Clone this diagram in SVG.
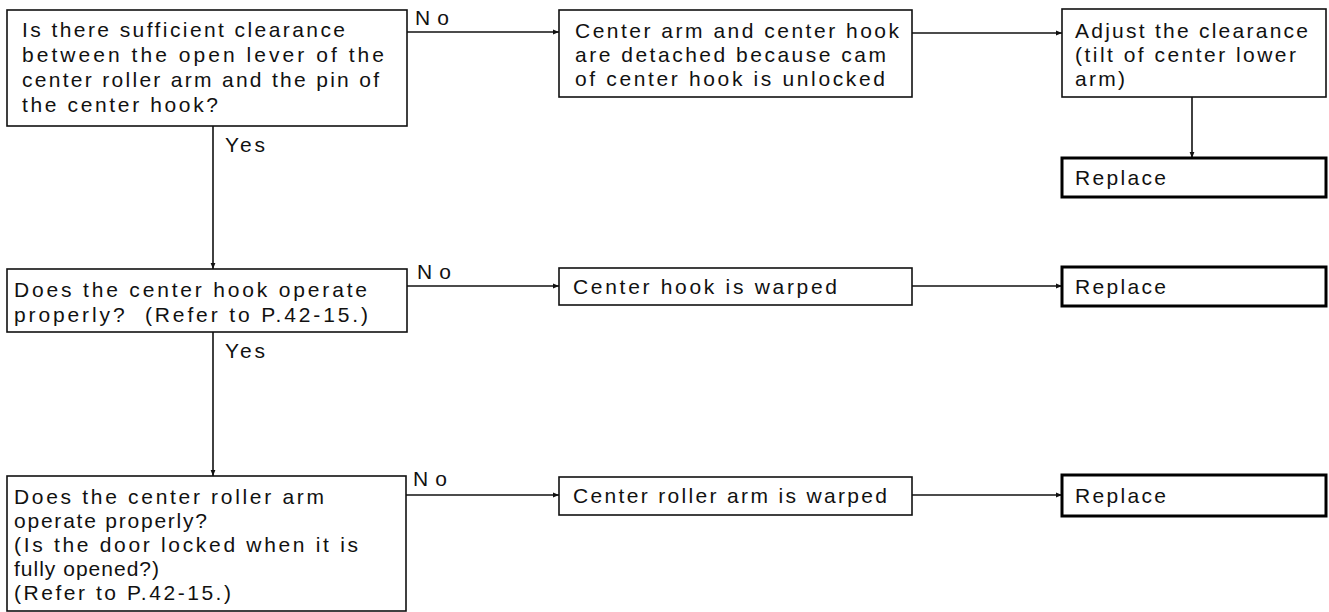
<svg xmlns="http://www.w3.org/2000/svg" width="1329" height="612" viewBox="0 0 1329 612">
<defs>
<style>
.box{fill:#fff;stroke:#111;stroke-width:1.6}
.rep{fill:#fff;stroke:#000;stroke-width:3}
.t{font-family:"Liberation Sans",Arial,sans-serif;font-size:21px;fill:#111}
.ln{fill:none;stroke:#111;stroke-width:1.6}
</style>
<marker id="ah" viewBox="0 0 10 10" refX="10" refY="5" markerWidth="10" markerHeight="6" markerUnits="userSpaceOnUse" orient="auto">
<path d="M0,1 L10,5 L0,9 Z" fill="#111"/>
</marker>
</defs>
<rect width="1329" height="612" fill="#fff"/>
<g id="connectors">
<line class="ln" x1="407" y1="32" x2="559" y2="32" marker-end="url(#ah)"/>
<line class="ln" x1="912" y1="33" x2="1062" y2="33" marker-end="url(#ah)"/>
<line class="ln" x1="1192" y1="97" x2="1192" y2="158" marker-end="url(#ah)"/>
<line class="ln" x1="213" y1="126" x2="213" y2="269" marker-end="url(#ah)"/>
<line class="ln" x1="407" y1="286" x2="559" y2="286" marker-end="url(#ah)"/>
<line class="ln" x1="912" y1="286" x2="1062" y2="286" marker-end="url(#ah)"/>
<line class="ln" x1="213" y1="332" x2="213" y2="476" marker-end="url(#ah)"/>
<line class="ln" x1="406" y1="495" x2="559" y2="495" marker-end="url(#ah)"/>
<line class="ln" x1="912" y1="495" x2="1062" y2="495" marker-end="url(#ah)"/>
<text class="t" x="415" y="25" textLength="34" lengthAdjust="spacing">No</text>
<text class="t" x="225" y="152" textLength="40" lengthAdjust="spacing">Yes</text>
<text class="t" x="417" y="279" textLength="34" lengthAdjust="spacing">No</text>
<text class="t" x="225" y="358" textLength="40" lengthAdjust="spacing">Yes</text>
<text class="t" x="413" y="486" textLength="34" lengthAdjust="spacing">No</text>
</g>
<g id="q1">
<rect class="box" x="7" y="10" width="400" height="116"/>
<text class="t" x="22" y="37" textLength="323" lengthAdjust="spacing">Is there sufficient clearance</text>
<text class="t" x="22" y="62" textLength="362" lengthAdjust="spacing">between the open lever of the</text>
<text class="t" x="22" y="87" textLength="357" lengthAdjust="spacing">center roller arm and the pin of</text>
<text class="t" x="22" y="112" textLength="196" lengthAdjust="spacing">the center hook?</text>
</g>
<g id="c1">
<rect class="box" x="559" y="10" width="353" height="87"/>
<text class="t" x="575" y="38" textLength="324" lengthAdjust="spacing">Center arm and center hook</text>
<text class="t" x="575" y="62" textLength="311" lengthAdjust="spacing">are detached because cam</text>
<text class="t" x="575" y="86" textLength="310" lengthAdjust="spacing">of center hook is unlocked</text>
</g>
<g id="a1">
<rect class="box" x="1062" y="9" width="264" height="88"/>
<text class="t" x="1075" y="38" textLength="233" lengthAdjust="spacing">Adjust the clearance</text>
<text class="t" x="1075" y="62" textLength="221" lengthAdjust="spacing">(tilt of center lower</text>
<text class="t" x="1075" y="86" textLength="50" lengthAdjust="spacing">arm)</text>
</g>
<g id="r1">
<rect class="rep" x="1062" y="158" width="264" height="39"/>
<text class="t" x="1075" y="185" textLength="91" lengthAdjust="spacing">Replace</text>
</g>
<g id="q2">
<rect class="box" x="7" y="269" width="400" height="63"/>
<text class="t" x="14" y="297" textLength="353" lengthAdjust="spacing">Does the center hook operate</text>
<text class="t" x="14" y="322" textLength="354" lengthAdjust="spacing">properly?&#160; (Refer to P.42-15.)</text>
</g>
<g id="c2">
<rect class="box" x="559" y="268" width="353" height="37"/>
<text class="t" x="573" y="294" textLength="264" lengthAdjust="spacing">Center hook is warped</text>
</g>
<g id="r2">
<rect class="rep" x="1062" y="267" width="264" height="39"/>
<text class="t" x="1075" y="294" textLength="91" lengthAdjust="spacing">Replace</text>
</g>
<g id="q3">
<rect class="box" x="7" y="476" width="399" height="135"/>
<text class="t" x="14" y="504" textLength="310" lengthAdjust="spacing">Does the center roller arm</text>
<text class="t" x="14" y="528" textLength="193" lengthAdjust="spacing">operate properly?</text>
<text class="t" x="14" y="552" textLength="344" lengthAdjust="spacing">(Is the door locked when it is</text>
<text class="t" x="14" y="576" textLength="145" lengthAdjust="spacing">fully opened?)</text>
<text class="t" x="14" y="600" textLength="217" lengthAdjust="spacing">(Refer to P.42-15.)</text>
</g>
<g id="c3">
<rect class="box" x="559" y="477" width="353" height="38"/>
<text class="t" x="573" y="503" textLength="314" lengthAdjust="spacing">Center roller arm is warped</text>
</g>
<g id="r3">
<rect class="rep" x="1062" y="475" width="264" height="41"/>
<text class="t" x="1075" y="503" textLength="91" lengthAdjust="spacing">Replace</text>
</g>
</svg>
